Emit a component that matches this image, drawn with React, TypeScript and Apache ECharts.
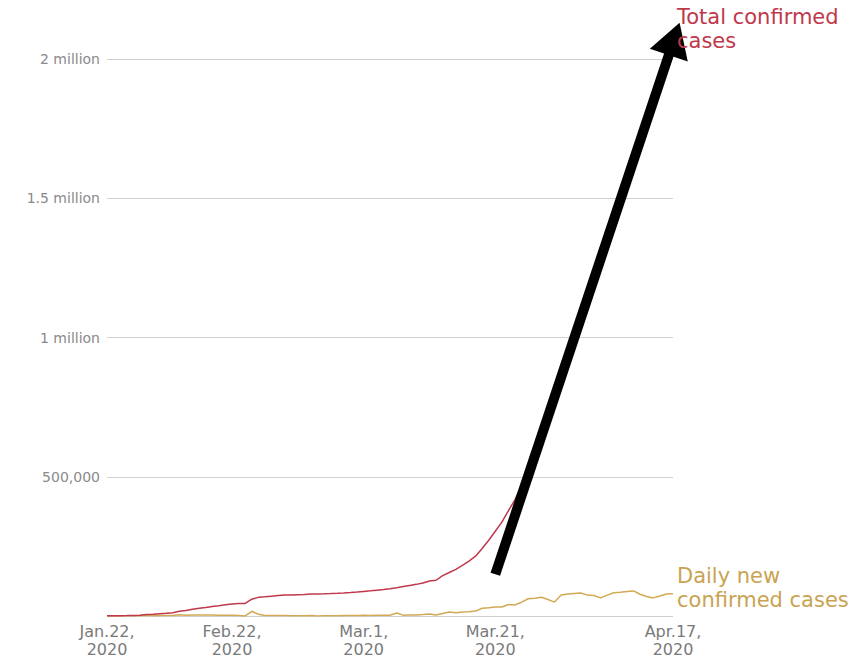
import React, { useEffect, useRef } from "react";
import * as echarts from "echarts";

// Total confirmed cases (daily, from the first tick to the last)
const totalConfirmed = [
  600, 700, 900, 1400, 2100, 2900, 5600, 6200, 8200, 9900,
  12000, 16800, 19900, 23900, 27600, 30800, 34400, 37100, 40200, 42800,
  44800, 45200, 60400, 66900, 69000, 71200, 73300, 75100, 75600, 76200,
  76800, 78600, 79000, 79600, 80400, 81400, 82700, 84100, 86000, 88400,
  90300, 92800, 95100, 97900, 101800, 105800, 109800, 113600, 118600, 125900,
  128400, 145200, 156100, 167500, 181600, 197100, 214800, 242600, 272200, 304500,
  337000, 378200, 418000, 467700, 529600, 593300, 660700, 720100, 782400, 857500,
  932000, 1010000, 1085000, 1160000, 1235000, 1310000, 1385000, 1455000, 1525000, 1590000,
  1665000, 1740000, 1810000, 1885000, 1955000, 2030000, 2100000,
];

// Daily new confirmed cases
const dailyNew = [
  0, 100, 290, 490, 680, 810, 2650, 590, 2070, 1690,
  2110, 4750, 3090, 4010, 3740, 3160, 3600, 2730, 3030, 2610,
  2040, 420, 17000, 6500, 2100, 2200, 2000, 1900, 500, 560,
  620, 1750, 390, 600, 850, 980, 1360, 1370, 1900, 2360,
  1940, 2530, 2280, 2770, 11000, 3000, 3800, 3800, 5000, 7200,
  3500, 9000, 14000, 12000, 14100, 15500, 17700, 27700, 29600, 32300,
  32400, 41300, 39800, 49600, 61900, 63700, 67400, 59400, 50000, 75100,
  79000, 80900, 82400, 75000, 73700, 65000, 75000, 83700, 85100, 88000,
  90000, 78100, 70100, 65000, 72000, 79000, 80000,
];

const xTickIndex = [0, 19, 39, 59, 86];
const xTickLabels = ["Jan.22,\n2020", "Feb.22,\n2020", "Mar.1,\n2020", "Mar.21,\n2020", "Apr.17,\n2020"];

const yTickValues = [0, 500000, 1000000, 1500000, 2000000];
const yTickLabels = ["", "500,000", "1 million", "1.5 million", "2 million"];

const seriesNames = ["Total confirmed\ncases", "Daily new\nconfirmed cases"];

// arrow annotation anchors in data space: [category index, value]
const arrowTail = [59.3, 150000];
const arrowTip = [86.5, 2130000];

const RED = "#c0384b";
const GOLD = "#d2a955";
const GOLD_TEXT = "#c9a352";
const FONT = "'DejaVu Sans', sans-serif";

export default function App() {
  const ref = useRef<HTMLDivElement>(null);

  useEffect(() => {
    if (!ref.current) return;
    const chart = echarts.init(ref.current, null, { renderer: "svg" });
    const categories = totalConfirmed.map((_, i) => String(i));

    chart.setOption({
      animation: false,
      backgroundColor: "#ffffff",
      grid: { left: 107, right: 188, top: 59, bottom: 41, containLabel: false },
      xAxis: {
        type: "category",
        data: categories,
        boundaryGap: false,
        axisLine: { show: false },
        axisTick: { show: false },
        splitLine: { show: false },
        axisLabel: {
          interval: (index: number) => xTickIndex.includes(index),
          formatter: (_v: string, index: number) => {
            const k = xTickIndex.indexOf(index);
            return k >= 0 ? xTickLabels[k] : "";
          },
          color: "#7a7a7a",
          fontFamily: FONT,
          fontSize: 16,
          lineHeight: 18,
          margin: 6,
        },
      },
      yAxis: {
        type: "value",
        min: 0,
        max: 2000000,
        interval: 500000,
        axisLine: { show: false },
        axisTick: { show: false },
        splitLine: { lineStyle: { color: "#cfcfcf", width: 1 } },
        axisLabel: {
          formatter: (v: number) => {
            const k = yTickValues.indexOf(v);
            return k >= 0 ? yTickLabels[k] : "";
          },
          color: "#8a8a8a",
          fontFamily: FONT,
          fontSize: 14,
          margin: 7,
        },
      },
      series: [
        {
          name: seriesNames[0],
          type: "line",
          data: totalConfirmed,
          symbol: "none",
          clip: false,
          lineStyle: { color: RED, width: 1.5 },
          z: 3,
        },
        {
          name: seriesNames[1],
          type: "line",
          data: dailyNew,
          symbol: "none",
          lineStyle: { color: GOLD, width: 1.5 },
          z: 2,
        },
      ],
    });

    const p0 = chart.convertToPixel({ gridIndex: 0 }, arrowTail) as number[];
    const p1 = chart.convertToPixel({ gridIndex: 0 }, arrowTip) as number[];
    const dx = p1[0] - p0[0];
    const dy = p1[1] - p0[1];
    const len = Math.sqrt(dx * dx + dy * dy);
    const ux = dx / len;
    const uy = dy / len;
    const headLen = 34;
    const headHalf = 20;
    const bx = p1[0] - ux * headLen;
    const by = p1[1] - uy * headLen;
    const px = -uy;
    const py = ux;

    chart.setOption({
      graphic: [
        {
          type: "line",
          shape: { x1: p0[0], y1: p0[1], x2: bx + ux * 4, y2: by + uy * 4 },
          style: { stroke: "#000", lineWidth: 10 },
          z: 100,
        },
        {
          type: "polygon",
          shape: {
            points: [
              [p1[0], p1[1]],
              [bx + px * headHalf, by + py * headHalf],
              [bx - px * headHalf, by - py * headHalf],
            ],
          },
          style: { fill: "#000" },
          z: 100,
        },
        {
          type: "text",
          x: 677,
          y: 5,
          style: {
            text: seriesNames[0],
            fill: RED,
            font: `21px ${FONT}`,
            lineHeight: 24,
          },
          z: 101,
        },
        {
          type: "text",
          x: 677,
          y: 564,
          style: {
            text: seriesNames[1],
            fill: GOLD_TEXT,
            font: `21px ${FONT}`,
            lineHeight: 24,
          },
          z: 101,
        },
      ],
    });

    return () => chart.dispose();
  }, []);

  return (
    <div
      ref={ref}
      style={{ position: "fixed", left: 0, top: 0, width: 861, height: 658, background: "#fff" }}
    />
  );
}
